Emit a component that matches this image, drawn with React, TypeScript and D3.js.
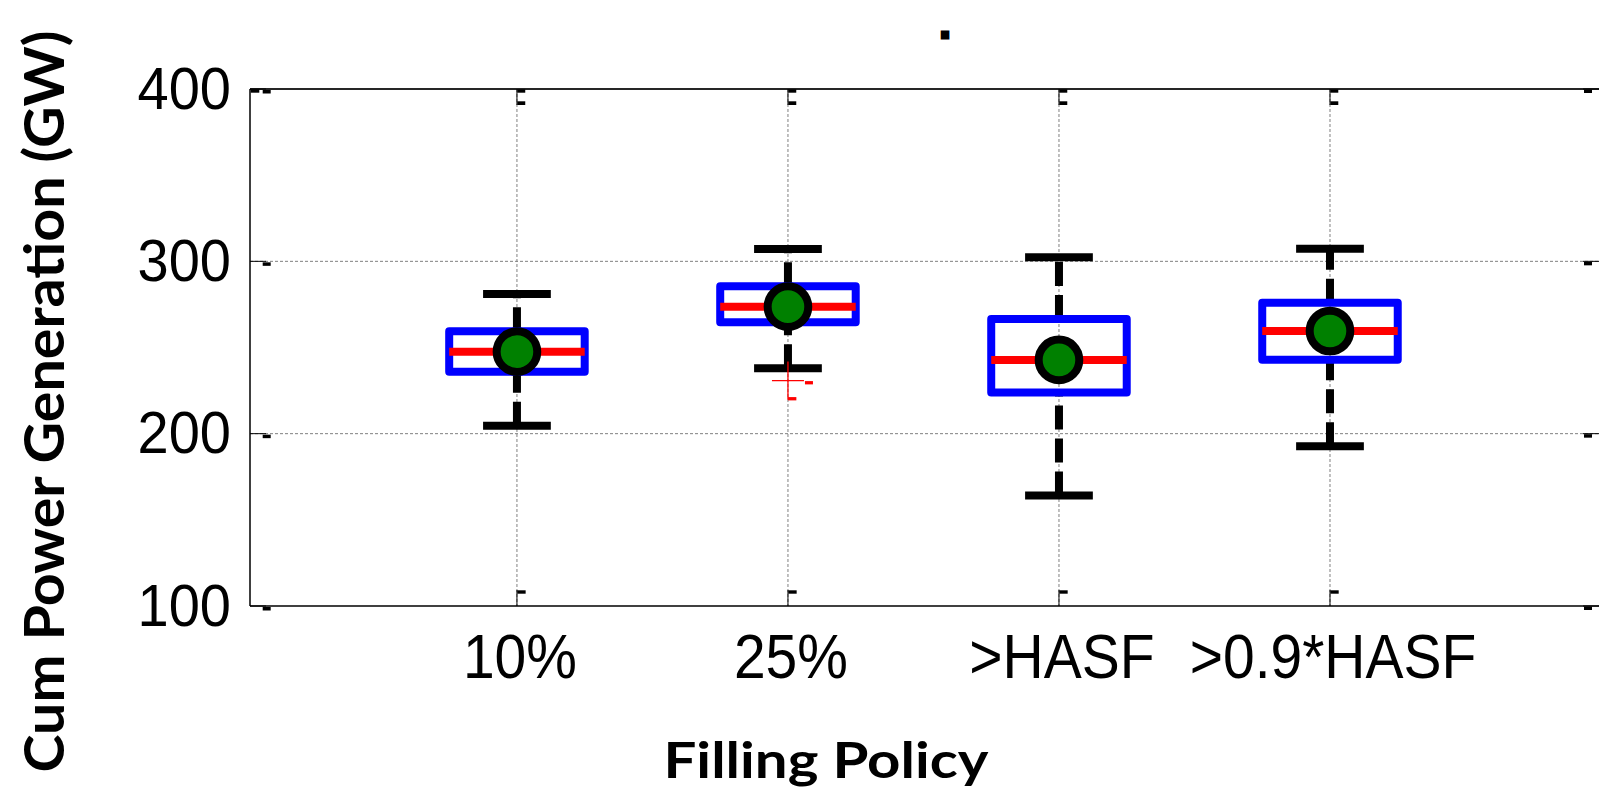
import React from "react";
import * as d3 from "d3";

// ---- data ----
const categories = ["10%", "25%", ">HASF", ">0.9*HASF"];
const lowerWhisker = [204.6, 238.0, 164.1, 192.7];
const q1 = [236.0, 264.7, 223.9, 242.9];
const medians = [247.6, 273.7, 242.8, 259.6];
const q3 = [259.4, 285.6, 266.5, 276.0];
const upperWhisker = [281.1, 307.2, 302.4, 307.3];
const means = [247.6, 273.7, 242.8, 259.6];
const outlierGroup = [1];
const outlierValue = [230.8];
const yTicks = [100, 200, 300, 400];
const yGrid = [200, 300];
const yLabel = "Cum Power Generation (GW)";
const xLabel = "Filling Policy";
const title = ".";

const W = 1599;
const H = 792;

export default function App() {
  const x = d3.scaleLinear().domain([0.015, 5]).range([250, 1601]);
  const y = d3.scaleLinear().domain([100, 400]).range([606, 89]);
  const pos = categories.map((_, i) => i + 1);
  const boxHalf = 0.25;
  const capHalf = 0.125;
  const left = x(0.015);
  const right = W;
  const top = y(400);
  const bottom = y(100);
  const tickFont = "'Liberation Sans', Arial, Helvetica, sans-serif";
  const boldFont = "Lato, 'Open Sans', sans-serif";

  return (
    <svg
      width={W}
      height={H}
      viewBox={`0 0 ${W} ${H}`}
      style={{ position: "absolute", left: 0, top: 0, background: "#fff" }}
    >
      <rect x={0} y={0} width={W} height={H} fill="#fff" />

      {/* grid */}
      {yGrid.map((v) => (
        <line
          key={"gy" + v}
          x1={left}
          x2={right}
          y1={y(v)}
          y2={y(v)}
          stroke="#808080"
          strokeWidth={1}
          strokeDasharray="3 2"
        />
      ))}
      {pos.map((p) => (
        <line
          key={"gx" + p}
          x1={x(p)}
          x2={x(p)}
          y1={top}
          y2={bottom}
          stroke="#808080"
          strokeWidth={1}
          strokeDasharray="3 2"
        />
      ))}

      {/* axes lines */}
      <line x1={left} x2={right} y1={top} y2={top} stroke="#262626" strokeWidth={2} />
      <line x1={left} x2={right} y1={bottom} y2={bottom} stroke="#000" strokeWidth={1.5} />
      <line x1={left} x2={left} y1={top} y2={bottom} stroke="#000" strokeWidth={1.5} />

      {/* y ticks */}
      {yTicks.map((v) => (
        <g key={"yt" + v}>
          <line x1={left} x2={left + 16} y1={y(v)} y2={y(v)} stroke="#000" strokeWidth={1} />
          <line x1={right - 16} x2={right} y1={y(v)} y2={y(v)} stroke="#000" strokeWidth={1} />
          <rect x={left + 12.7} y={y(v) + 1} width={8} height={3.5} fill="#000" />
          <rect x={1584} y={y(v) + 0.5} width={8} height={3.5} fill="#000" />
          <text
            transform={`translate(231, ${y(v) + 19.5}) scale(1, 1.07)`}
            textAnchor="end"
            fontFamily={tickFont}
            fontSize={56}
            fill="#000"
          >
            {v}
          </text>
        </g>
      ))}
      <rect x={left + 0.7} y={top + 0.3} width={8.6} height={3.4} fill="#000" />

      {/* x ticks */}
      {pos.map((p) => (
        <g key={"xt" + p}>
          <line x1={x(p)} x2={x(p)} y1={bottom - 16} y2={bottom} stroke="#000" strokeWidth={1} />
          <line x1={x(p)} x2={x(p)} y1={top} y2={top + 16} stroke="#000" strokeWidth={1} />
          <rect x={x(p) + 0.3} y={bottom - 15.7} width={8.4} height={3.4} fill="#000" />
          <rect x={x(p) + 0.3} y={top + 0.3} width={8} height={3.4} fill="#000" />
          <rect x={x(p) + 0.3} y={top + 12.3} width={8} height={3.7} fill="#000" />
        </g>
      ))}

      {/* category labels */}
      {categories.map((c, i) => (
        <text
          key={"xl" + c}
          transform={`translate(${x(pos[i]) + 3}, 678) scale(1, 1.1)`}
          textAnchor="middle"
          fontFamily={tickFont}
          fontSize={57}
          fill="#000"
        >
          {c}
        </text>
      ))}

      {/* boxes */}
      {pos.map((p, i) => {
        const cx = x(p);
        const bl = x(p - boxHalf);
        const br = x(p + boxHalf);
        const cl = x(p - capHalf);
        const cr = x(p + capHalf);
        return (
          <g key={"box" + i}>
            <line
              x1={cx}
              x2={cx}
              y1={y(q3[i])}
              y2={y(upperWhisker[i])}
              stroke="#000"
              strokeWidth={8}
              strokeDasharray="24 9"
            />
            <line
              x1={cx}
              x2={cx}
              y1={y(lowerWhisker[i])}
              y2={y(q1[i])}
              stroke="#000"
              strokeWidth={8}
              strokeDasharray="24 9"
            />
            <line x1={cl} x2={cr} y1={y(upperWhisker[i])} y2={y(upperWhisker[i])} stroke="#000" strokeWidth={8} />
            <line x1={cl} x2={cr} y1={y(lowerWhisker[i])} y2={y(lowerWhisker[i])} stroke="#000" strokeWidth={8} />
            <rect
              x={bl}
              y={y(q3[i])}
              width={br - bl}
              height={y(q1[i]) - y(q3[i])}
              fill="none"
              stroke="#0000ff"
              strokeWidth={8}
              strokeLinejoin="round"
            />
            <line x1={bl} x2={br} y1={y(medians[i])} y2={y(medians[i])} stroke="#ff0000" strokeWidth={8} />
          </g>
        );
      })}

      {/* outliers */}
      {outlierGroup.map((g, k) => {
        const cx = x(pos[g]);
        const cy = y(outlierValue[k]);
        return (
          <g key={"out" + k}>
            <line x1={cx - 16} x2={cx + 16} y1={cy} y2={cy} stroke="#ff0000" strokeWidth={1.3} />
            <line x1={cx} x2={cx} y1={cy - 19} y2={cy + 19} stroke="#ff0000" strokeWidth={1.3} />
            <rect x={cx + 17} y={cy + 0.5} width={8} height={3.3} fill="#ff0000" />
            <rect x={cx} y={cy + 16.5} width={8.4} height={3.3} fill="#ff0000" />
          </g>
        );
      })}

      {/* means */}
      {pos.map((p, i) => (
        <circle
          key={"m" + i}
          cx={x(p)}
          cy={y(means[i])}
          r={20.3}
          fill="#008000"
          stroke="#000"
          strokeWidth={8}
        />
      ))}

      {/* title */}
      <text
        x={945}
        y={37.5}
        textAnchor="middle"
        fontFamily={tickFont}
        fontWeight="bold"
        fontSize={40}
        stroke="#000"
        strokeWidth={3}
        fill="#000"
      >
        {title}
      </text>

      {/* axis labels */}
      <text
        x={826}
        y={778}
        textAnchor="middle"
        fontFamily={boldFont}
        fontWeight="bold"
        fontSize={50}
        textLength={325}
        lengthAdjust="spacingAndGlyphs"
        fill="#000"
      >
        {xLabel}
      </text>
      <text
        transform={`translate(64, 401.5) rotate(-90)`}
        x={0}
        y={0}
        textAnchor="middle"
        fontFamily={boldFont}
        fontWeight="bold"
        fontSize={56}
        textLength={742}
        lengthAdjust="spacingAndGlyphs"
        fill="#000"
      >
        {yLabel}
      </text>
    </svg>
  );
}
